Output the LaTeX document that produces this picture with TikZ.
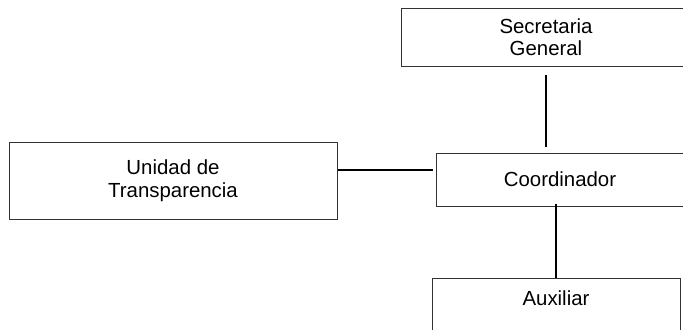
\documentclass[tikz,border=0pt]{standalone}
\usepackage{fontspec}
\setmainfont{Liberation Sans}
\usetikzlibrary{shapes}

\begin{document}
\begin{tikzpicture}[x=0.75pt,y=-0.75pt,
  unitbox/.style={draw=black!80,line width=0.75pt,inner sep=0pt,align=center,font=\fontsize{15.3}{16.9}\selectfont},
  link/.style={line width=1.6pt}]
\useasboundingbox (0,0) rectangle (683,329);
\clip (0,0) rectangle (683,329);
\node[unitbox,minimum width=217.5pt,minimum height=43.5pt] (sg) at (546,37) {Secretaria\\General};
\node[unitbox,minimum width=186pt,minimum height=39.75pt] (coord) at (560,179.5) {Coordinador};
\node[unitbox,minimum width=246pt,minimum height=57.75pt] (ut) at (173,180.5) {Unidad de\\Transparencia};
\node[unitbox,minimum width=186pt,text height=20.25pt,text depth=40pt,anchor=north] (aux) at (556,278) {Auxiliar};
\draw[link,shorten <=6pt,shorten >=4.5pt] (sg.south) -- (sg.south |- coord.north);
\draw[link,shorten >=2pt] ([yshift=7.8pt]ut.east) -- ([yshift=7.8pt]ut.east -| coord.west);
\draw[link,shorten <=-2pt] (aux.north |- coord.south) -- (aux.north);
\end{tikzpicture}
\end{document}
